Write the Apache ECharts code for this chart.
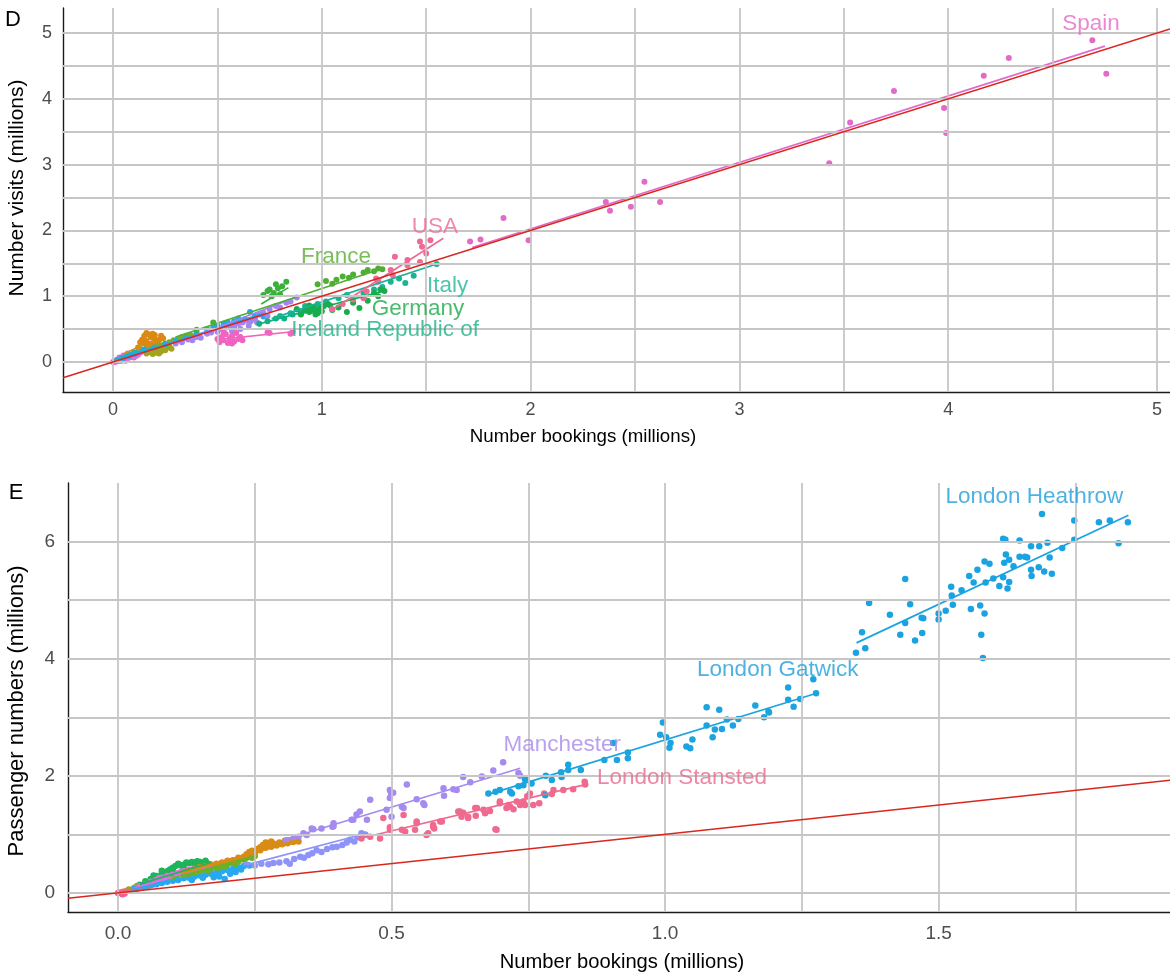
<!DOCTYPE html>
<html><head><meta charset="utf-8">
<script src="https://cdn.jsdelivr.net/npm/echarts@6/dist/echarts.min.js"></script>
<style>html,body{margin:0;padding:0;background:#fff}#c{width:1170px;height:976px}</style>
</head><body><div id="c"></div>
<script>
// ---------------- Panel D data (bookings vs visits, millions) ----------------
const dSpain = [[1.71,1.83],[1.76,1.86],[1.87,2.19],[1.99,1.85],[2.36,2.43],[2.38,2.30],[2.48,2.36],[2.545,2.74],[2.62,2.43],[3.43,3.02],[3.53,3.64],[3.74,4.12],[3.98,3.86],[3.99,3.48],[4.17,4.35],[4.29,4.62],[4.69,4.89],[4.757,4.38]];
const dUSA = [[1.05,0.80],[1.10,0.88],[1.15,0.95],[1.20,0.97],[1.215,1.07],[1.26,1.27],[1.27,1.22],[1.33,1.40],[1.34,1.32],[1.35,1.60],[1.41,1.55],[1.41,1.47],[1.47,1.52],[1.48,1.75],[1.47,1.83],[1.50,1.65],[1.52,1.85]];
const dFrance = [[0.40,0.49],[0.48,0.60],[0.98,1.18],[1.02,1.23],[1.05,1.19],[1.07,1.25],[1.10,1.30],[1.15,1.33],[1.20,1.36],[1.22,1.40],[1.25,1.38],[1.27,1.42],[1.29,1.41],[1.13,1.28]];
const dGreen2 = [[0.72,1.02],[0.74,1.08],[0.75,1.10],[0.77,1.05],[0.78,1.18],[0.80,1.03],[0.81,1.15],[0.83,1.22],[0.76,1.00],[0.79,1.12]];
const dGermany = [[0.88,0.80],[0.90,0.72],[0.92,0.78],[0.93,0.82],[0.94,0.76],[0.94,0.86],[0.95,0.80],[0.96,0.84],[0.97,0.79],[0.97,0.72],[0.98,0.74],[0.99,0.81],[1.00,0.77],[1.01,0.85],[1.03,0.88],[1.05,0.79],[1.08,0.83],[1.12,0.76],[1.15,0.90],[1.18,0.82],[1.20,0.98],[1.22,0.93],[1.25,1.05],[1.27,1.00],[1.28,1.10],[1.30,1.08]];
const dItaly = [[0.80,0.70],[0.85,0.74],[0.88,0.80],[0.90,0.76],[0.92,0.85],[0.95,0.83],[0.96,0.78],[0.98,0.88],[1.02,0.92],[1.08,0.97],[1.12,1.02],[1.20,1.04],[1.25,1.10],[1.29,1.14],[1.33,1.22],[1.37,1.27],[1.40,1.20],[1.44,1.31],[1.55,1.49]];
const dIreland = [[0.70,0.58],[0.74,0.62],[0.78,0.66],[0.82,0.66],[0.86,0.72],[0.90,0.74],[0.95,0.78],[1.00,0.84],[1.04,0.86]];
const dPurple = [[0.30,0.28],[0.33,0.30],[0.36,0.34],[0.38,0.33],[0.40,0.38],[0.42,0.37],[0.45,0.43],[0.47,0.45],[0.50,0.46],[0.52,0.50],[0.54,0.52],[0.56,0.55],[0.57,0.47],[0.58,0.53],[0.60,0.58],[0.61,0.50],[0.62,0.60],[0.64,0.63],[0.65,0.55],[0.66,0.62],[0.68,0.66],[0.69,0.60],[0.70,0.72],[0.72,0.75],[0.74,0.70],[0.75,0.80],[0.78,0.85],[0.80,0.83],[0.83,0.90],[0.85,0.92],[0.88,0.98]];
const dBlue = [[0.05,0.06],[0.08,0.09],[0.10,0.12],[0.15,0.17],[0.20,0.22],[0.25,0.27],[0.30,0.32],[0.35,0.37],[0.40,0.45],[0.45,0.50],[0.48,0.52],[0.50,0.55],[0.53,0.58],[0.545,0.59],[0.55,0.60],[0.58,0.62],[0.60,0.66],[0.63,0.65],[0.656,0.76],[0.68,0.70],[0.72,0.69]];
const dPink = [[0.50,0.35],[0.51,0.30],[0.52,0.38],[0.53,0.33],[0.53,0.45],[0.54,0.42],[0.55,0.29],[0.56,0.36],[0.57,0.40],[0.57,0.28],[0.58,0.31],[0.59,0.44],[0.60,0.35],[0.61,0.38],[0.62,0.33],[0.74,0.45],[0.75,0.44],[0.85,0.43],[0.86,0.46]];
const dOrange = [[0.12,0.22],[0.13,0.30],[0.14,0.34],[0.15,0.40],[0.15,0.28],[0.16,0.44],[0.16,0.32],[0.17,0.42],[0.17,0.25],[0.18,0.38],[0.19,0.43],[0.19,0.27],[0.20,0.35],[0.20,0.41],[0.21,0.30],[0.22,0.33],[0.23,0.40],[0.24,0.36]];
const dOlive = [[0.16,0.13],[0.17,0.18],[0.18,0.15],[0.19,0.12],[0.20,0.14],[0.20,0.20],[0.21,0.17],[0.22,0.13],[0.22,0.23],[0.23,0.16],[0.24,0.20],[0.25,0.18],[0.26,0.22],[0.27,0.24],[0.28,0.20]];
const dLightGreen = [[0.22,0.25],[0.24,0.26],[0.25,0.28],[0.26,0.24],[0.27,0.30],[0.29,0.33],[0.30,0.31],[0.31,0.35],[0.33,0.38],[0.34,0.36],[0.35,0.40],[0.37,0.41],[0.38,0.39],[0.40,0.40]];
const dCyan = [[0.02,0.03],[0.04,0.06],[0.06,0.08],[0.07,0.10],[0.08,0.11],[0.10,0.14],[0.11,0.13],[0.12,0.16],[0.14,0.19],[0.16,0.21],[0.18,0.22],[0.20,0.25]];
const dMagenta = [[0.01,0.00],[0.02,0.03],[0.03,0.02],[0.03,0.07],[0.04,0.05],[0.05,0.04],[0.05,0.10],[0.06,0.07],[0.06,0.02],[0.07,0.06],[0.07,0.13],[0.08,0.10],[0.09,0.08],[0.10,0.12],[0.11,0.09],[0.12,0.11],[0.13,0.14]];
const dPinkRed = [[0.00,0.00],[0.01,0.02],[0.02,0.01],[0.03,0.04],[0.04,0.02],[0.05,0.06],[0.06,0.05],[0.08,0.07],[0.09,0.11],[0.10,0.07]];
// fitted line end points per group [x1,y1],[x2,y2]
const dFits = {
  spain:[[1.72,1.74],[4.75,4.80]], usa:[[1.047,0.79],[1.582,1.88]], france:[[0.30,0.38],[1.29,1.42]],
  green2:[[0.71,0.88],[0.84,1.13]], germany:[[0.88,0.73],[1.30,1.08]], italy:[[0.76,0.66],[1.55,1.49]],
  ireland:[[0.70,0.58],[1.04,0.87]], purple:[[0.30,0.28],[0.89,1.00]], blue:[[0.05,0.06],[0.72,0.74]],
  pink:[[0.50,0.34],[0.86,0.46]], orange:[[0.05,0.12],[0.24,0.40]], olive:[[0.15,0.12],[0.28,0.23]],
  lightgreen:[[0.20,0.22],[0.40,0.41]], cyan:[[0.02,0.03],[0.20,0.24]], magenta:[[0.01,0.01],[0.13,0.13]]
};
const dIdentity = [[-0.2395,-0.2395],[5.062,5.062]];
const dLabels = [['Spain',4.684,5.14],['USA',1.542,2.05],['France',1.068,1.60],['Italy',1.602,1.155],['Germany',1.461,0.805],['Ireland Republic of',1.303,0.486]];
const dTickLabels = [0,1,2,3,4,5];
const dGridX = [0,0.5,1,1.5,2,2.5,3,3.5,4,4.5,5];
const dGridY = [0,0.5,1,1.5,2,2.5,3,3.5,4,4.5,5];

// ---------------- Panel E data (bookings vs passenger numbers, millions) ----------------
const eHeathrow = [[1.689,6.47],[1.748,6.36],[1.793,6.33],[1.813,6.36],[1.846,6.33],[1.829,5.97],[1.748,6.03],[1.726,5.89],[1.618,6.05],[1.622,6.03],[1.648,6.02],[1.669,5.92],[1.684,5.92],[1.699,5.98],[1.703,5.73],[1.707,5.45],[1.693,5.49],[1.683,5.56],[1.669,5.52],[1.670,5.41],[1.658,5.74],[1.662,5.73],[1.648,5.74],[1.637,5.58],[1.623,5.78],[1.629,5.69],[1.620,5.64],[1.618,5.39],[1.629,5.31],[1.611,5.24],[1.626,5.20],[1.600,5.37],[1.586,5.30],[1.584,5.66],[1.593,5.62],[1.571,5.52],[1.556,5.41],[1.564,5.30],[1.542,5.17],[1.523,5.23],[1.524,5.08],[1.526,4.92],[1.513,4.82],[1.500,4.77],[1.500,4.67],[1.559,4.85],[1.576,4.91],[1.584,4.77],[1.578,4.41],[1.581,4.01],[1.439,5.36],[1.448,4.93],[1.373,4.95],[1.411,4.75],[1.439,4.61],[1.469,4.70],[1.472,4.69],[1.430,4.41],[1.457,4.31],[1.470,4.44],[1.360,4.45],[1.366,4.18],[1.349,4.10]];
const eGatwick = [[1.276,3.41],[1.225,3.51],[1.271,3.65],[1.235,3.18],[1.247,3.31],[1.225,3.30],[1.189,3.10],[1.181,3.00],[1.190,3.08],[1.165,3.20],[1.134,2.97],[1.124,2.86],[1.113,2.96],[1.099,3.13],[1.076,3.17],[1.076,2.86],[1.091,2.79],[1.104,2.80],[1.087,2.66],[1.050,2.62],[1.039,2.50],[1.046,2.47],[1.008,2.48],[1.010,2.56],[1.002,2.66],[0.991,2.70],[0.996,2.91],[0.932,2.40],[0.932,2.30],[0.912,2.27],[0.889,2.27],[0.905,2.56],[0.846,2.10],[0.823,2.19],[0.823,2.10],[0.811,1.98],[0.810,2.06],[0.793,1.93],[0.782,2.00],[0.756,1.87],[0.744,1.94],[0.741,1.84],[0.732,1.82],[0.717,1.73],[0.720,1.70],[0.698,1.76],[0.690,1.73],[0.677,1.70],[0.781,1.67]];
const eManchester = [[0.308,0.90],[0.321,0.93],[0.330,0.96],[0.339,1.02],[0.345,0.99],[0.354,1.10],[0.357,1.09],[0.372,1.10],[0.392,1.13],[0.394,1.19],[0.394,1.14],[0.427,1.25],[0.430,1.25],[0.436,1.34],[0.442,1.39],[0.455,1.25],[0.461,1.59],[0.491,1.42],[0.497,1.62],[0.497,1.76],[0.499,1.71],[0.500,1.30],[0.503,1.71],[0.519,1.47],[0.522,1.45],[0.528,1.85],[0.546,1.60],[0.558,1.53],[0.560,1.50],[0.595,1.79],[0.596,1.66],[0.613,1.77],[0.619,1.76],[0.631,1.98],[0.644,1.89],[0.665,1.99],[0.686,2.09],[0.704,2.23],[0.732,2.05],[0.735,2.00]];
const eStansted = [[0.445,0.93],[0.461,0.96],[0.479,0.93],[0.485,1.28],[0.497,1.08],[0.497,1.12],[0.519,1.08],[0.522,1.33],[0.525,1.05],[0.543,1.08],[0.546,1.22],[0.546,1.19],[0.564,0.99],[0.567,1.02],[0.576,1.16],[0.576,1.13],[0.578,1.10],[0.589,1.22],[0.592,1.22],[0.622,1.39],[0.625,1.39],[0.628,1.30],[0.631,1.37],[0.640,1.28],[0.640,1.30],[0.653,1.45],[0.654,1.32],[0.656,1.45],[0.668,1.42],[0.671,1.36],[0.680,1.40],[0.690,1.09],[0.692,1.08],[0.698,1.53],[0.698,1.56],[0.710,1.45],[0.714,1.50],[0.717,1.47],[0.723,1.43],[0.729,1.56],[0.735,1.50],[0.741,1.56],[0.744,1.50],[0.748,1.65],[0.750,1.65],[0.753,1.70],[0.759,1.50],[0.770,1.53],[0.779,1.70],[0.793,1.69],[0.796,1.76],[0.814,1.76],[0.832,1.77],[0.853,1.90],[0.854,1.85]];
const ePeriwinkle = [[0.235,0.48],[0.250,0.47],[0.262,0.50],[0.275,0.49],[0.284,0.51],[0.295,0.52],[0.308,0.54],[0.314,0.50],[0.322,0.58],[0.333,0.62],[0.340,0.60],[0.348,0.65],[0.355,0.68],[0.363,0.73],[0.372,0.70],[0.382,0.75],[0.392,0.78],[0.400,0.79],[0.410,0.82],[0.418,0.86],[0.424,0.91],[0.432,0.88],[0.438,0.95],[0.445,1.02],[0.452,1.00]];
const eOrange = [[0.12,0.35],[0.13,0.38],[0.14,0.40],[0.15,0.44],[0.16,0.46],[0.17,0.48],[0.18,0.50],[0.19,0.52],[0.20,0.55],[0.21,0.56],[0.22,0.60],[0.23,0.62],[0.235,0.66],[0.24,0.70],[0.245,0.72],[0.25,0.68],[0.255,0.75],[0.26,0.78],[0.26,0.73],[0.265,0.82],[0.27,0.86],[0.27,0.77],[0.275,0.80],[0.28,0.88],[0.28,0.79],[0.285,0.84],[0.29,0.81],[0.295,0.86],[0.30,0.83],[0.305,0.89],[0.31,0.85],[0.315,0.90],[0.32,0.87],[0.325,0.93],[0.33,0.88]];
const eOliveGreen = [[0.10,0.25],[0.12,0.30],[0.13,0.33],[0.14,0.34],[0.15,0.37],[0.16,0.40],[0.165,0.36],[0.17,0.41],[0.175,0.45],[0.18,0.44],[0.185,0.41],[0.19,0.46],[0.195,0.43],[0.20,0.49],[0.205,0.52],[0.21,0.51],[0.215,0.50],[0.22,0.54],[0.225,0.58],[0.23,0.57],[0.235,0.60],[0.24,0.62],[0.245,0.60],[0.25,0.63]];
const eGreen = [[0.04,0.14],[0.05,0.20],[0.06,0.24],[0.065,0.30],[0.07,0.29],[0.08,0.33],[0.08,0.38],[0.09,0.37],[0.095,0.40],[0.10,0.43],[0.10,0.39],[0.105,0.46],[0.11,0.50],[0.115,0.47],[0.12,0.48],[0.12,0.44],[0.125,0.52],[0.13,0.51],[0.135,0.53],[0.14,0.52],[0.14,0.47],[0.145,0.54],[0.15,0.53],[0.155,0.51],[0.16,0.55],[0.165,0.50],[0.17,0.48]];
const eMagenta = [[0.03,0.08],[0.04,0.12],[0.05,0.15],[0.06,0.19],[0.07,0.22],[0.075,0.25],[0.08,0.26],[0.09,0.29],[0.095,0.28],[0.10,0.31],[0.11,0.34],[0.115,0.36],[0.12,0.37],[0.13,0.40],[0.135,0.38],[0.14,0.41],[0.15,0.43],[0.155,0.42],[0.16,0.44],[0.17,0.45]];
const eBlue = [[0.03,0.07],[0.05,0.11],[0.06,0.13],[0.07,0.15],[0.08,0.17],[0.09,0.19],[0.10,0.21],[0.11,0.22],[0.12,0.25],[0.13,0.26],[0.135,0.22],[0.14,0.28],[0.15,0.30],[0.155,0.26],[0.16,0.31],[0.17,0.33],[0.175,0.27],[0.18,0.34],[0.185,0.28],[0.19,0.37],[0.195,0.24],[0.20,0.39],[0.205,0.33],[0.21,0.41],[0.215,0.36],[0.22,0.44],[0.225,0.40],[0.23,0.46],[0.235,0.48],[0.24,0.47]];
const ePinkRed = [[0.00,0.00],[0.005,0.01],[0.008,-0.02],[0.01,0.02],[0.012,-0.01],[0.015,0.03],[0.02,0.05],[0.025,0.04],[0.03,0.06],[0.035,0.07],[0.04,0.09],[0.045,0.10],[0.05,0.11],[0.055,0.12],[0.06,0.14],[0.065,0.15],[0.07,0.16]];
const eOlive = [[0.02,0.06],[0.03,0.09],[0.035,0.12],[0.04,0.11],[0.05,0.14],[0.055,0.13]];
const eFits = {
  heathrow:[[1.35,4.27],[1.847,6.45]], gatwick:[[0.674,1.675],[1.277,3.41]], manchester:[[0.30,0.90],[0.735,2.13]],
  stansted:[[0.442,0.93],[0.854,1.85]], periwinkle:[[0.235,0.48],[0.455,1.02]], orange:[[0.12,0.34],[0.33,0.91]],
  olivegreen:[[0.10,0.26],[0.25,0.63]], green:[[0.04,0.15],[0.17,0.52]], magenta:[[0.03,0.09],[0.17,0.45]],
  blue:[[0.03,0.07],[0.24,0.47]], pinkred:[[0.00,0.00],[0.07,0.16]]
};
const eIdentity = [[-0.0914,-0.0914],[1.923,1.923]];
const eLabels = [['London Heathrow',1.675,6.77],['London Gatwick',1.206,3.81],['Manchester',0.812,2.53],['London Stansted',1.031,1.97]];
const eTickLabelsX = [0,0.5,1,1.5];
const eTickLabelsY = [0,2,4,6];
const eGridX = [0,0.25,0.5,0.75,1,1.25,1.5,1.75];
const eGridY = [0,1,2,3,4,5,6];

// ---------------- styling ----------------
const FONT = "'Liberation Sans', Arial, Helvetica, sans-serif";
const GRID_COLOR = '#C6C6C6';
const RED = '#D9261F';
const dGroups = [
  ['pinkred',dPinkRed,'#F3628E'],['magenta',dMagenta,'#E86BE0'],['cyan',dCyan,'#14B8C4'],['olive',dOlive,'#A3A41C'],
  ['orange',dOrange,'#DC8914'],['lightgreen',dLightGreen,'#78B028'],['blue',dBlue,'#22A7EC'],['purple',dPurple,'#A484F2'],
  ['pink',dPink,'#F064C0'],['ireland',dIreland,'#10B183'],['italy',dItaly,'#1AB394'],['germany',dGermany,'#18AD4B'],
  ['green2',dGreen2,'#3BB13C'],['france',dFrance,'#4FAF34'],['usa',dUSA,'#EE6A95'],['spain',dSpain,'#E26BC8']
];
const dLabelColors = {'Spain':'#E36BC9','USA':'#EE6D95','France':'#56AE30','Italy':'#1FB59A','Germany':'#1CAA4B','Ireland Republic of':'#1DB387'};
const eGroups = [
  ['pinkred',ePinkRed,'#F5608A'],['olive',eOlive,'#A3A41C'],['green',eGreen,'#1DB45A'],['magenta',eMagenta,'#E26EE6'],
  ['blue',eBlue,'#26A9F0'],['olivegreen',eOliveGreen,'#6AB12A'],['orange',eOrange,'#D98C15'],['periwinkle',ePeriwinkle,'#8E93F7'],
  ['manchester',eManchester,'#A58AF0'],['stansted',eStansted,'#EF6A8E'],['gatwick',eGatwick,'#1BA4E0'],['heathrow',eHeathrow,'#1AA3E2']
];
const eLabelColors = {'London Heathrow':'#219FDB','London Gatwick':'#219FDB','Manchester':'#A689EC','London Stansted':'#E9698E'};

function gridSeries(idx, gx, gy){
  return {type:'line', xAxisIndex:idx, yAxisIndex:idx, data:[], silent:true, z:1,
    markLine:{silent:true, symbol:['none','none'], label:{show:false}, animation:false,
      lineStyle:{color:GRID_COLOR, width:1.8, type:'solid'},
      data: gx.map(v=>({xAxis:v})).concat(gy.map(v=>({yAxis:v})))}};
}
function groupSeries(idx, groups, fits, size){
  const out = [];
  groups.forEach(([key, pts, col])=>{
    out.push({type:'scatter', xAxisIndex:idx, yAxisIndex:idx, data:pts, symbolSize:size, silent:true, z:3,
      itemStyle:{color:col, opacity:1}});
    if (fits[key]) out.push({type:'line', xAxisIndex:idx, yAxisIndex:idx, data:fits[key], symbol:'none', silent:true, z:4,
      lineStyle:{color:col, width:1.7}});
  });
  return out;
}
function labelSeries(idx, labels, colors){
  return {type:'scatter', xAxisIndex:idx, yAxisIndex:idx, symbolSize:1, silent:true, z:6,
    itemStyle:{color:'rgba(0,0,0,0)'},
    data: labels.map(([n,x,y])=>({name:n, value:[x,y],
      label:{show:true, position:'inside', formatter:n, color:colors[n], fontSize:22.5, fontFamily:FONT}}))};
}
function axisCommon(){
  return {type:'value', axisLine:{show:true, onZero:false, lineStyle:{color:'#1a1a1a', width:1.4}},
    axisTick:{show:false}, splitLine:{show:false}};
}

const chart = echarts.init(document.getElementById('c'), null, {renderer:'canvas'});
const option = {
  animation:false, backgroundColor:'#ffffff',
  grid:[{left:63, top:8, width:1107, height:384},{left:68, top:483, width:1102, height:429}],
  xAxis:[
    Object.assign(axisCommon(), {gridIndex:0, min:-0.2395, max:5.062,
      axisLabel:{customValues:dTickLabels, color:'#4D4D4D', fontSize:18, margin:9, fontFamily:FONT}}),
    Object.assign(axisCommon(), {gridIndex:1, min:-0.0914, max:1.923,
      axisLabel:{customValues:eTickLabelsX, formatter:v=>Number(v).toFixed(1), color:'#4D4D4D', fontSize:19, margin:12, fontFamily:FONT}})
  ],
  yAxis:[
    Object.assign(axisCommon(), {gridIndex:0, min:-0.456, max:5.38,
      axisLabel:{customValues:dTickLabels, color:'#4D4D4D', fontSize:18, margin:11, fontFamily:FONT}}),
    Object.assign(axisCommon(), {gridIndex:1, min:-0.325, max:7.0,
      axisLabel:{customValues:eTickLabelsY, color:'#4D4D4D', fontSize:19, margin:13, fontFamily:FONT}})
  ],
  series:[].concat(
    [gridSeries(0, dGridX, dGridY), gridSeries(1, eGridX, eGridY)],
    groupSeries(0, dGroups, dFits, 6),
    groupSeries(1, eGroups, eFits, 6.5),
    [{type:'line', xAxisIndex:0, yAxisIndex:0, data:dIdentity, symbol:'none', silent:true, z:5, lineStyle:{color:RED, width:1.5}},
     {type:'line', xAxisIndex:1, yAxisIndex:1, data:eIdentity, symbol:'none', silent:true, z:5, lineStyle:{color:RED, width:1.5}},
     labelSeries(0, dLabels, dLabelColors), labelSeries(1, eLabels, eLabelColors)]
  ),
  graphic:[
    {type:'text', x:13, y:20, style:{text:'D', fontSize:22, fontFamily:FONT, fill:'#000', align:'center', verticalAlign:'middle'}},
    {type:'text', x:16, y:493, style:{text:'E', fontSize:22, fontFamily:FONT, fill:'#000', align:'center', verticalAlign:'middle'}},
    {type:'text', x:583, y:437, style:{text:'Number bookings (millions)', fontSize:18.7, fontFamily:FONT, fill:'#000', align:'center', verticalAlign:'middle'}},
    {type:'text', x:622, y:962, style:{text:'Number bookings (millions)', fontSize:20.2, fontFamily:FONT, fill:'#000', align:'center', verticalAlign:'middle'}},
    {type:'text', x:17, y:188, rotation:Math.PI/2, style:{text:'Number visits (millions)', fontSize:21, fontFamily:FONT, fill:'#000', align:'center', verticalAlign:'middle'}},
    {type:'text', x:17, y:711, rotation:Math.PI/2, style:{text:'Passenger numbers (millions)', fontSize:22, fontFamily:FONT, fill:'#000', align:'center', verticalAlign:'middle'}}
  ]
};
chart.setOption(option);
</script></body></html>
